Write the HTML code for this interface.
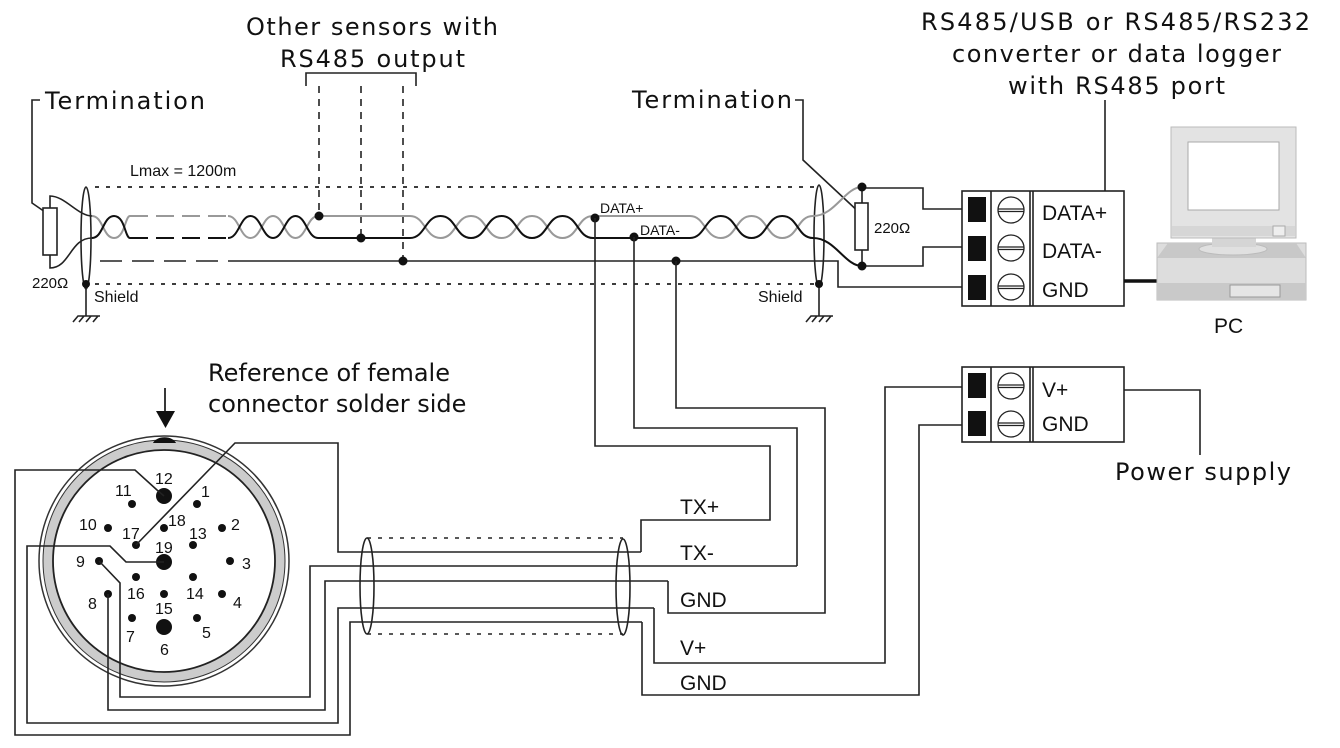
<!DOCTYPE html>
<html><head><meta charset="utf-8"><style>
html,body{margin:0;padding:0;background:#fff;}
svg{display:block;}
.d{font-family:"DejaVu Sans",sans-serif;font-size:24px;fill:#111;}
.a{font-family:"Liberation Sans",sans-serif;fill:#111;}
</style></head><body>
<svg width="1340" height="748" viewBox="0 0 1340 748" xmlns="http://www.w3.org/2000/svg">
<text class="d" x="246" y="35" textLength="252">Other sensors with</text>
<text class="d" x="280" y="67" textLength="185">RS485 output</text>
<text class="d" x="45" y="109" textLength="160">Termination</text>
<text class="d" x="632" y="108" textLength="160">Termination</text>
<text class="d" x="921" y="30" textLength="389">RS485/USB or RS485/RS232</text>
<text class="d" x="952" y="62" textLength="329">converter or data logger</text>
<text class="d" x="1008" y="94" textLength="217">with RS485 port</text>
<text class="a" x="130" y="176" font-size="16">Lmax = 1200m</text>
<text class="a" x="32" y="288" font-size="15">220Ω</text>
<text class="a" x="94" y="302" font-size="16">Shield</text>
<text class="a" x="758" y="302" font-size="16">Shield</text>
<text class="a" x="874" y="233" font-size="15">220Ω</text>
<text class="a" x="600" y="213" font-size="14">DATA+</text>
<text class="a" x="640" y="235" font-size="14">DATA-</text>

<g fill="none" stroke="#222" stroke-width="1.6">
<path d="M40 100 H32 V203 L48 214"/>
<path d="M795 100 H803 V160 L862 215"/>
<path d="M306 86 V73 H416 V86"/>
<path d="M319 86 V216 M361 86 V238 M403 86 V261" stroke-dasharray="7,6"/>
<path d="M95 187 H815 M95 284 H815" stroke-dasharray="4,7" stroke-width="1.8"/>
<path d="M100 261 H225" stroke-dasharray="22,10"/>
<path d="M228 261 H838 V287 H962"/>
<rect x="43" y="208" width="14" height="47" fill="#fff"/>
<path d="M50 208 V196 C65 196 78 216 92 216"/>
<path d="M50 255 V268 C70 268 70 238 92 238"/>
<ellipse cx="86" cy="238" rx="5" ry="51"/>
<path d="M86 284 V316 M73 322 L78 316 H100 M79 322 L84 316 M86 322 L91 316 M93 322 L98 316"/>
<ellipse cx="819" cy="236" rx="5" ry="51"/>
<path d="M819 284 V316 M806 322 L811 316 H833 M812 322 L817 316 M819 322 L824 316 M826 322 L831 316"/>
<rect x="855" y="203" width="13" height="47" fill="#fff"/>
<path d="M862 187 V203 M862 250 V266"/>
<path d="M862 188 H923 V209 H962 M862 266 H923 V247 H962"/>
</g>

<g fill="none" stroke="#999" stroke-width="2">
<path d="M92 216 c11 0 11 22 22 22 s11 -22 16 -22"/>
<path d="M130 216 H228" stroke-dasharray="18,8"/>
<path d="M228 216 c11 0 12 22 22.5 22 s12 -22 22.5 -22 s12 22 22.5 22 s12 -22 22.5 -22 H410"/>
<path d="M410 216 c15 0 15 22 30.5 22 s15 -22 30.5 -22 s15 22 30.5 22 s15 -22 30.5 -22 s15 22 30.5 22 s15 -22 30.5 -22 H690"/>
<path d="M690 216 c15 0 15 22 30.75 22 s15 -22 30.75 -22 s15 22 30.75 22 s15 -22 30.75 -22 C835 216 845 187 862 187"/>
</g>
<g fill="none" stroke="#111" stroke-width="2">
<path d="M92 238 c11 0 11 -22 22 -22 s11 22 16 22"/>
<path d="M130 238 H228" stroke-dasharray="18,8"/>
<path d="M228 238 c11 0 12 -22 22.5 -22 s12 22 22.5 22 s12 -22 22.5 -22 s12 22 22.5 22 H410"/>
<path d="M410 238 c15 0 15 -22 30.5 -22 s15 22 30.5 22 s15 -22 30.5 -22 s15 22 30.5 22 s15 -22 30.5 -22 s15 22 30.5 22 H690"/>
<path d="M690 238 c15 0 15 -22 30.75 -22 s15 22 30.75 22 s15 -22 30.75 -22 s15 22 30.75 22 C835 238 845 266 862 266"/>
</g>
<g fill="#111">
<circle cx="86" cy="284" r="4"/><circle cx="819" cy="284" r="4"/>
<circle cx="319" cy="216" r="4.5"/><circle cx="361" cy="238" r="4.5"/><circle cx="403" cy="261" r="4.5"/>
<circle cx="595" cy="218" r="4.5"/><circle cx="634" cy="237" r="4.5"/><circle cx="676" cy="261" r="4.5"/>
<circle cx="862" cy="187" r="4.5"/><circle cx="862" cy="266" r="4.5"/>
</g>

<!-- connector (drawn before wires) -->
<circle cx="164" cy="561" r="125" fill="#fff" stroke="#333" stroke-width="1.5"/>
<circle cx="164" cy="561" r="121" fill="#ccc" stroke="#333" stroke-width="1"/>
<circle cx="164" cy="561" r="111" fill="#fff" stroke="#222" stroke-width="1.8"/>
<path d="M153 443 A12 8 0 0 1 176 443 Z" fill="#111"/>
<path d="M165 388 V413" stroke="#222" stroke-width="1.8"/>
<path d="M156 411 H175 L165.5 428 Z" fill="#111"/>
<text class="d" x="208" y="381">Reference of female</text>
<text class="d" x="208" y="412">connector solder side</text>
<g fill="#111">
<circle cx="164" cy="496" r="8"/><circle cx="164" cy="562" r="8"/><circle cx="164" cy="627" r="8"/>
<circle cx="132" cy="504" r="4"/><circle cx="197" cy="504" r="4"/>
<circle cx="108" cy="528" r="4"/><circle cx="164" cy="528" r="4"/><circle cx="222" cy="528" r="4"/>
<circle cx="136" cy="545" r="4"/><circle cx="193" cy="545" r="4"/>
<circle cx="99" cy="561" r="4"/><circle cx="230" cy="561" r="4"/>
<circle cx="136" cy="577" r="4"/><circle cx="193" cy="577" r="4"/>
<circle cx="108" cy="594" r="4"/><circle cx="164" cy="594" r="4"/><circle cx="222" cy="594" r="4"/>
<circle cx="132" cy="618" r="4"/><circle cx="197" cy="618" r="4"/>
</g>
<g class="a" font-size="16">
<text x="155" y="484">12</text><text x="115" y="496">11</text><text x="201" y="497">1</text>
<text x="79" y="530">10</text><text x="168" y="526">18</text><text x="231" y="530">2</text>
<text x="122" y="539">17</text><text x="189" y="539">13</text><text x="155" y="553">19</text>
<text x="76" y="567">9</text><text x="242" y="569">3</text>
<text x="127" y="599">16</text><text x="186" y="599">14</text><text x="155" y="614">15</text>
<text x="88" y="609">8</text><text x="233" y="608">4</text>
<text x="126" y="642">7</text><text x="202" y="638">5</text><text x="160" y="655">6</text>
</g>

<g fill="none" stroke="#222" stroke-width="1.6">
<path d="M595 218 V446 H770 V520 H641 V552"/>
<path d="M634 237 V428 H797 V566"/>
<path d="M676 261 V408 H825 V613 H668 V581"/>
<path d="M962 387 H885 V663 H654 V608"/>
<path d="M962 425 H919 V695 H642 V622"/>
<path d="M367 538 H623 M367 634 H623" stroke-dasharray="4,7"/>
<ellipse cx="367" cy="586" rx="7" ry="48"/>
<ellipse cx="623" cy="587" rx="7" ry="48"/>
<path d="M136 545 L235 443 H338 V552 H641"/>
<path d="M99 561 L120 583 V697 H310 V566 H797"/>
<path d="M108 594 V710 H325 V581 H668"/>
<path d="M164 562 H126 L110 546 H27 V723 H338 V608 H654"/>
<path d="M164 496 L157 490 L135 470 H15 V735 H350 V622 H642"/>
<path d="M1105 100 V191"/>
<path d="M1103 390 H1200 V455"/>
</g>
<text class="a" x="680" y="514" font-size="21">TX+</text>
<text class="a" x="680" y="560" font-size="21">TX-</text>
<text class="a" x="680" y="607" font-size="21">GND</text>
<text class="a" x="680" y="655" font-size="21">V+</text>
<text class="a" x="680" y="690" font-size="21">GND</text>

<g stroke="#222" stroke-width="1.6" fill="#fff">
<rect x="962" y="191" width="162" height="115"/>
<path d="M991 191 V306 M1030 191 V306 M1033 191 V306" fill="none"/>
<rect x="962" y="367" width="162" height="75"/>
<path d="M991 367 V442 M1030 367 V442 M1033 367 V442" fill="none"/>
</g>
<g fill="#111">
<rect x="968" y="197" width="18" height="25"/><rect x="968" y="236" width="18" height="25"/><rect x="968" y="275" width="18" height="25"/>
<rect x="968" y="373" width="18" height="25"/><rect x="968" y="411" width="18" height="25"/>
</g>
<g fill="none" stroke="#222" stroke-width="1.3">
<circle cx="1011" cy="210" r="13"/><path d="M998 209 H1024 M998 211.5 H1024"/>
<circle cx="1011" cy="248" r="13"/><path d="M998 247 H1024 M998 249.5 H1024"/>
<circle cx="1011" cy="287" r="13"/><path d="M998 286 H1024 M998 288.5 H1024"/>
<circle cx="1011" cy="386" r="13"/><path d="M998 385 H1024 M998 387.5 H1024"/>
<circle cx="1011" cy="424" r="13"/><path d="M998 423 H1024 M998 425.5 H1024"/>
</g>
<text class="a" x="1042" y="220" font-size="21">DATA+</text>
<text class="a" x="1042" y="258" font-size="21">DATA-</text>
<text class="a" x="1042" y="297" font-size="21">GND</text>
<text class="a" x="1042" y="397" font-size="21">V+</text>
<text class="a" x="1042" y="431" font-size="21">GND</text>
<text class="d" x="1115" y="480" textLength="176">Power supply</text>
<path d="M1124 281 H1157" stroke="#111" stroke-width="3.5"/>

<rect x="1157" y="243" width="149" height="57" fill="#ddd" stroke="#bbb"/>
<path d="M1157 258 L1168 243 H1296 L1306 258 Z" fill="#c8c8c8"/>
<rect x="1157" y="283" width="149" height="17" fill="#c9c9c9"/>
<rect x="1230" y="285" width="50" height="12" fill="#e5e5e5" stroke="#999"/>
<ellipse cx="1233" cy="249" rx="34" ry="6" fill="#e0e0e0" stroke="#bbb"/>
<rect x="1212" y="237" width="44" height="10" fill="#d5d5d5"/>
<rect x="1171" y="127" width="125" height="111" fill="#e3e3e3" stroke="#bbb"/>
<rect x="1188" y="142" width="91" height="68" fill="#fff" stroke="#aaa"/>
<rect x="1172" y="226" width="123" height="10" fill="#d6d6d6"/>
<rect x="1273" y="226" width="12" height="10" fill="#eee" stroke="#aaa"/>
<text class="a" x="1214" y="333" font-size="21">PC</text>
</svg>
</body></html>
